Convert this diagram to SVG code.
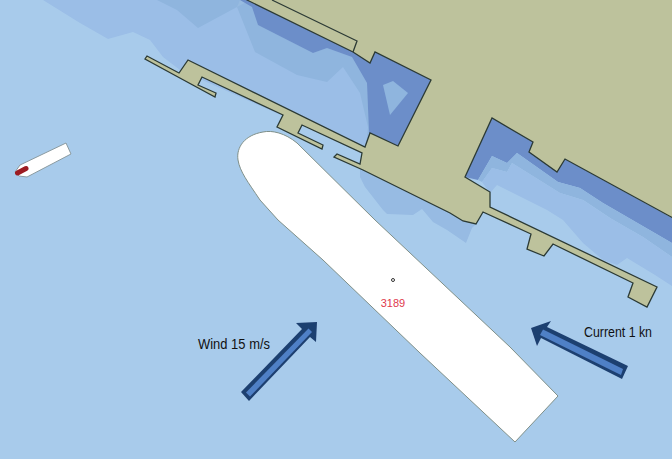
<svg xmlns="http://www.w3.org/2000/svg" width="672" height="459" viewBox="0 0 672 459">
<style>
.a{fill:#9bbee7}.b{fill:#8fb5de}.c{fill:#6c8ec9}
.land{fill:#bdc29c;stroke:#2c3a35;stroke-width:1.3;stroke-linejoin:miter}
.arrowOuter{fill:#1f3f70}.arrowInner{fill:#4f80c6}
text{font-family:"Liberation Sans",Arial,sans-serif}
.lbl{font-size:15px;fill:#111}
</style>
<defs><filter id="soft" x="-2%" y="-2%" width="104%" height="104%"><feGaussianBlur stdDeviation="0.5"/></filter></defs>
<rect width="672" height="459" fill="#a8cbeb"/>
<g id="depths" filter="url(#soft)">
<polygon class="a" points="43,0 80,23 108,39 133,32 150,40 163,57 180,70 370,155 375,60 300,0"/>
<polygon class="b" points="157,0 177,10 198,28 237,7 255,52 297,75 327,82 343,67 360,93 368,127 366,148 390,100 372,50 250,0"/>
<polygon class="a" points="237,7 240,0 252,0 258,25 313,53 327,48 352,57 367,83 369,133 372,140 390,100 372,50 250,0" style="fill:#97bbe0"/>
<polygon class="c" points="240,0 247,0 353,52 370,63 375,52 431,80 398,146 370,133 369,133 367,83 352,57 327,48 313,53 258,25 252,7"/>
<polygon class="b" points="383,85 393,81 408,93 390,115"/>
<polygon points="360,168 360,177 365,187 383,210 387,214 413,215 422,209 433,222 447,230 466,243 472,228 476,224 463,221 450,213" fill="#97bbe3"/>
<polygon class="c" points="465,177 492,118 533,142 529,152 557,172 565,159 672,218 672,243 603,203 580,188 558,182 517,153 507,163 492,156 478,180"/>
<polygon class="b" points="478,180 492,156 507,163 517,153 558,182 580,188 603,203 672,243 672,257 643,237 610,218 583,200 560,193 512,163 507,172 492,168 482,182"/>
<polygon class="a" points="482,182 492,168 507,172 512,163 560,193 583,200 610,218 643,237 672,257 672,286 655,275 627,258 617,265 603,260 583,243 563,220 547,210 497,185 490,193"/>
</g>
<g id="land" filter="url(#soft)">
<polygon class="land" points="247,0 353,52 370,63 375,52 431,80 398,146 370,133 365,147 188,60 179,73 147,56 145,59 178,77 215,97 216,93 198,85 202,77 283,115 277,127 322,149 323,145 298,133 302,125 362,153 360,164 337,154 334,157 363,170 450,213 463,221 476,224 483,212 531,234 527,249 544,256 553,244 633,283 628,297 647,307 657,287 490,207 490,192 465,177 492,118 533,142 529,152 557,172 565,159 673,218 673,-2 247,-2"/>
<polyline points="272,0 357,41 353,52" fill="none" stroke="#2c3a35" stroke-width="1.3"/>
</g>
<g id="large-ship" filter="url(#soft)">
<path d="M515,442 L558,396 L510,347 L375,220 L297,143 C285,133 272,130 263,132 C245,135 236,147 238,160 C240,172 248,182 260,200 L278,220 L323,260 L420,353 Z" fill="#fff" stroke="#7f8f88" stroke-width="1"/>
<circle cx="393" cy="280" r="1.5" fill="#fff" stroke="#333" stroke-width="1"/>
</g>
<text x="393" y="307" text-anchor="middle" font-size="11" fill="#e0394c">3189</text>
<g id="small-ship" filter="url(#soft)">
<polygon points="66,143 71,154 27,177 19,176 15,172 20,165" fill="#fff" stroke="#8a9aa0" stroke-width="1"/>
<line x1="17.500" y1="173" x2="26" y2="168.500" stroke="#9c1a20" stroke-width="5" stroke-linecap="round"/>
</g>
<g id="connectors" filter="url(#soft)">
<g id="wind-arrow">
<polygon class="arrowOuter" points="241,392 249,401 310,337 316,342 317,322 296,323 302,329"/>
<polygon class="arrowInner" points="246,392.500 250,396.500 312,332 308.500,328.500"/>
</g>
<g id="current-arrow">
<polygon class="arrowOuter" points="628,366 622,379 541,338 537,346 531,328 551,321 547,327"/>
<polygon class="arrowInner" points="623,369 621,375 540,335 543,329.500"/>
</g>
</g>
<text class="lbl" x="198" y="349" textLength="72" lengthAdjust="spacingAndGlyphs">Wind 15 m/s</text>
<text class="lbl" x="584" y="337" textLength="68" lengthAdjust="spacingAndGlyphs">Current 1 kn</text>
</svg>
